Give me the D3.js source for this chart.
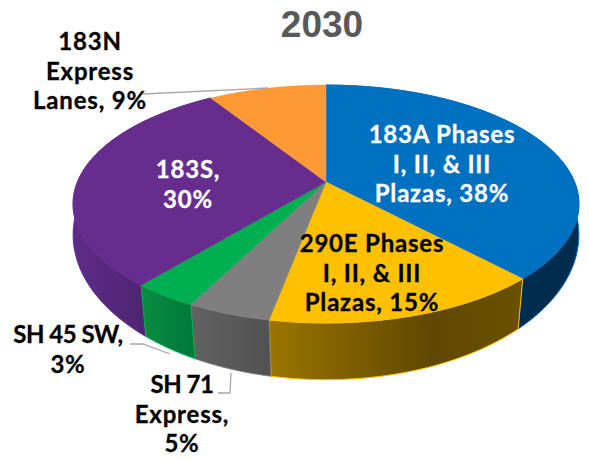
<!DOCTYPE html>
<html><head><meta charset="utf-8">
<script src="https://cdn.jsdelivr.net/npm/d3@7"></script>
<style>html,body{margin:0;padding:0;background:#fff}svg{display:block}
text{font-family:Lato,"Open Sans",sans-serif;font-weight:700;text-anchor:middle}</style>
</head><body><svg id="c" width="589" height="462"></svg>
<script>
const categories=["183A Phases I, II, & III Plazas","290E Phases I, II, & III Plazas","SH 71 Express","SH 45 SW","183S","183N Express Lanes"];
const values=[38,15,4.5,3.5,30,9];
const percentLabels=["38%","15%","5%","3%","30%","9%"];
const labelLines=[["183A Phases","I, II, & III","Plazas, 38%"],["290E Phases","I, II, & III","Plazas, 15%"],["SH 71","Express,","5%"],["SH 45 SW,","3%"],["183S,","30%"],["183N","Express","Lanes, 9%"]];
const topColors=["#0070C0","#FFC000","#7F7F7F","#00B050","#662D8F","#FF9933"];
const wallStops=[["#002C4E","#002C4E"],["#9C7500","#5F4800","#6A5000"],["#626262","#525252"],["#0A8C42","#007A38"],["#5F2C88","#4E2573"],["#9A5C1E","#9A5C1E"]];

const svg=d3.select("#c");
const cx=326,topGeom={cy:182,K:0.1849,A:248.6,B:114.9},botGeom={cy:213,K:0.15,A:250,B:141.7};
function project(g,t){
  const sx=d3.scaleLinear().domain([-1,1]).range([cx-g.A,cx+g.A]);
  const sy=d3.scaleLinear().domain([-1,1]).range([g.cy-g.B,g.cy+g.B]);
  const u=Math.sin(t),v=-Math.cos(t),w=1-g.K*v;
  return [cx+(sx(u)-cx)/w,g.cy+(sy(v)-g.cy)/w];
}
const proj=t=>project(topGeom,t),projB=t=>project(botGeom,t);
const pie=d3.pie().sort(null).value(d=>d)(values);
const line=d3.line();
const samples=(a,b)=>d3.range(0,61).map(i=>a+(b-a)*i/60);

const defs=svg.append("defs");
const wallOrder=[0,4,1,2,3];
wallOrder.forEach(i=>{
  const d=pie[i];
  const ts=samples(d.startAngle,d.endAngle);
  const pts=ts.map(t=>proj(t)).concat(ts.slice().reverse().map(t=>projB(t)));
  const visible=ts.filter(t=>Math.cos(t)<0.2).map(t=>proj(t)[0]);
  const g=defs.append("linearGradient").attr("id","w"+i).attr("gradientUnits","userSpaceOnUse")
    .attr("x1",d3.min(visible)).attr("x2",d3.max(visible)).attr("y1",0).attr("y2",0);
  wallStops[i].forEach((c,j,a)=>g.append("stop").attr("offset",i===1&&j===1?0.64:j/(a.length-1)).attr("stop-color",c));
  svg.append("path").attr("d",line(pts)+"Z").attr("fill",`url(#w${i})`).attr("stroke",topColors[i]).attr("stroke-width",1);
});
pie.forEach((d,i)=>{
  const pts=[[cx,topGeom.cy]].concat(samples(d.startAngle,d.endAngle).map(t=>proj(t)));
  svg.append("path").attr("d",line(pts)+"Z").attr("fill",topColors[i]).attr("stroke",topColors[i]).attr("stroke-width",0.5);
});
const leaders=[[[143,94],[268,88]],[[130,344],[143,344],[170,354]],[[218,393],[230,393],[231,373]]];
leaders.forEach(l=>svg.append("path").attr("d",line(l)).attr("fill","none").attr("stroke","#A6A6A6").attr("stroke-width",1.3));
svg.append("text").attr("x",322).attr("y",37).attr("fill","#595959").style("font-family","'Liberation Sans',sans-serif").style("font-size","37px").text("2030");
const labelPos=[[442,143],[372,252],[182,393],[68,343],[188,178],[90,50]];
const labelFill=["#fff","#000","#000","#000","#fff","#000"];
labelLines.forEach((ls,i)=>{
  const t=svg.append("text").attr("fill",labelFill[i]).attr("stroke",labelFill[i]).attr("stroke-width",0.3)
    .style("font-size","24px");
  ls.forEach((s,j)=>t.append("tspan").attr("x",labelPos[i][0]).attr("y",labelPos[i][1]+j*29.6)
    .style("letter-spacing",s.startsWith("SH")?"-0.5px":"0.8px").text(s));
});
</script></body></html>
